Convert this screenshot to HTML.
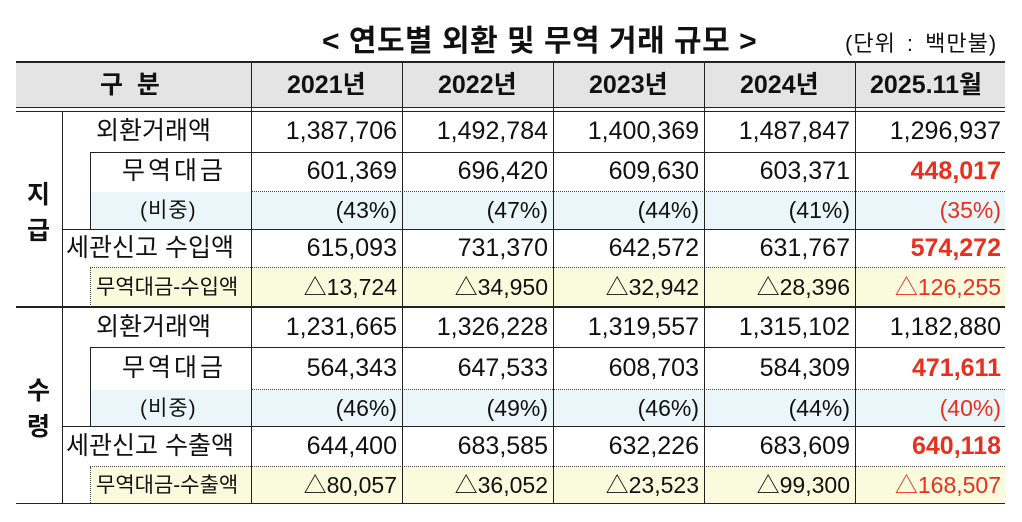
<!DOCTYPE html>
<html><head><meta charset="utf-8"><style>
body{margin:0;width:1022px;height:522px;background:#fff;position:relative;overflow:hidden;font-family:"Liberation Sans","Noto Sans CJK KR","NanumGothic",sans-serif;color:#111}
.a{position:absolute;box-sizing:border-box}
.t{position:absolute;white-space:nowrap;font-size:24px;line-height:1}
.r{text-align:right}
.red{color:#e8301c}
.hl{position:absolute;height:0}
.vl{position:absolute;width:0}
</style></head><body>
<div class="t" style="left:322px;top:27px;font-size:30px;font-weight:bold;letter-spacing:0.5px">&lt; 연도별 외환 및 무역 거래 규모 &gt;</div>
<div class="t" style="left:845px;top:33px;font-size:22px;letter-spacing:1px;word-spacing:4px">(단위 : 백만불)</div>

<div class="a" style="left:16px;top:62px;width:989px;height:46px;background:#e4e4e4"></div>
<div class="a" style="left:90px;top:192px;width:915px;height:37px;background:#eaf6fa"></div>
<div class="a" style="left:90px;top:268px;width:915px;height:39px;background:#fafadc"></div>
<div class="a" style="left:90px;top:390px;width:915px;height:36px;background:#eaf6fa"></div>
<div class="a" style="left:90px;top:467px;width:915px;height:36px;background:#fafadc"></div>

<div class="hl" style="left:16px;top:61px;width:989px;border-top:2px solid #222"></div>
<div class="hl" style="left:16px;top:107px;width:989px;border-top:1.5px solid #222"></div>
<div class="hl" style="left:16px;top:111px;width:989px;border-top:1.5px solid #222"></div>
<div class="hl" style="left:90px;top:152px;width:915px;border-top:1px solid #222"></div>
<div class="hl" style="left:251px;top:191px;width:754px;border-top:1.5px dotted #444"></div>
<div class="hl" style="left:62px;top:229px;width:943px;border-top:1px solid #222"></div>
<div class="hl" style="left:90px;top:267px;width:915px;border-top:1.5px dotted #444"></div>
<div class="hl" style="left:16px;top:306px;width:989px;border-top:2px solid #222"></div>
<div class="hl" style="left:90px;top:347px;width:915px;border-top:1px solid #222"></div>
<div class="hl" style="left:251px;top:389px;width:754px;border-top:1.5px dotted #444"></div>
<div class="hl" style="left:62px;top:426px;width:943px;border-top:1px solid #222"></div>
<div class="hl" style="left:90px;top:466px;width:915px;border-top:1.5px dotted #444"></div>
<div class="hl" style="left:16px;top:503px;width:989px;border-top:1.5px solid #222"></div>

<div class="vl" style="left:62px;top:112px;height:391px;border-left:1px solid #222"></div>
<div class="vl" style="left:90px;top:153px;height:76px;border-left:1px solid #222"></div>
<div class="vl" style="left:90px;top:268px;height:39px;border-left:1.5px dotted #444"></div>
<div class="vl" style="left:90px;top:348px;height:78px;border-left:1px solid #222"></div>
<div class="vl" style="left:90px;top:467px;height:36px;border-left:1.5px dotted #444"></div>
<div class="vl" style="left:251px;top:62px;height:441px;border-left:1px solid #222"></div>
<div class="vl" style="left:402px;top:62px;height:441px;border-left:1px solid #222"></div>
<div class="vl" style="left:553px;top:62px;height:441px;border-left:1px solid #222"></div>
<div class="vl" style="left:704px;top:62px;height:441px;border-left:1px solid #222"></div>
<div class="vl" style="left:855px;top:62px;height:441px;border-left:1px solid #222"></div>

<div class="t" style="left:100px;top:73px;font-weight:bold;font-size:25px">구&nbsp;&nbsp;분</div>
<div class="t" style="left:287px;top:73px;font-weight:bold;font-size:25px">2021년</div>
<div class="t" style="left:438px;top:73px;font-weight:bold;font-size:25px">2022년</div>
<div class="t" style="left:589px;top:73px;font-weight:bold;font-size:25px">2023년</div>
<div class="t" style="left:740px;top:73px;font-weight:bold;font-size:25px">2024년</div>
<div class="t" style="left:870px;top:73px;font-weight:bold;font-size:25px">2025.11월</div>

<div class="t" style="left:27px;top:177px;font-weight:bold;font-size:25px;line-height:36px">지<br>급</div>
<div class="t" style="left:27px;top:373px;font-weight:bold;font-size:25px;line-height:36px">수<br>령</div>

<div id="rows"></div>
<script>
var rows=[
[119,96,"외환거래액",["1,387,706","1,492,784","1,400,369","1,487,847","1,296,937"],0,24],
[159,122,"무역대금",["601,369","696,420","609,630","603,371","448,017"],1,24],
[198,140,"(비중)",["(43%)","(47%)","(44%)","(41%)","(35%)"],1,20],
[236,66,"세관신고 수입액",["615,093","731,370","642,572","631,767","574,272"],1,24],
[275,96,"무역대금-수입액",["△13,724","△34,950","△32,942","△28,396","△126,255"],2,20],
[315,96,"외환거래액",["1,231,665","1,326,228","1,319,557","1,315,102","1,182,880"],0,24],
[356,122,"무역대금",["564,343","647,533","608,703","584,309","471,611"],1,24],
[396,140,"(비중)",["(46%)","(49%)","(46%)","(44%)","(40%)"],1,20],
[434,66,"세관신고 수출액",["644,400","683,585","632,226","683,609","640,118"],1,24],
[473,96,"무역대금-수출액",["△80,057","△36,052","△23,523","△99,300","△168,507"],2,20]];
var xs=[251,402,553,704,855],h="";
rows.forEach(function(r){
 var ls=r[1]==140?"letter-spacing:1px;":(r[1]==122?"letter-spacing:3px;":"");
 h+='<div class="t" style="left:'+r[1]+'px;top:'+(r[0]+(r[5]==20?2:0))+'px;font-size:'+(r[5]==20?21:25)+'px;'+ls+'">'+r[2]+'</div>';
 r[3].forEach(function(v,i){
  var cls="t r"+(i==4&&r[4]?" red":"");
  var fw=(i==4&&r[4]==1&&r[5]==24)?"font-weight:bold;":"";
  var fs=r[5]==20?23:25;
  h+='<div class="'+cls+'" style="left:'+xs[i]+'px;width:146px;top:'+(r[0]+(r[5]==20?1:0))+'px;font-size:'+fs+'px;'+fw+'">'+v+'</div>';
 });
});
document.getElementById('rows').innerHTML=h;
</script>
</body></html>
